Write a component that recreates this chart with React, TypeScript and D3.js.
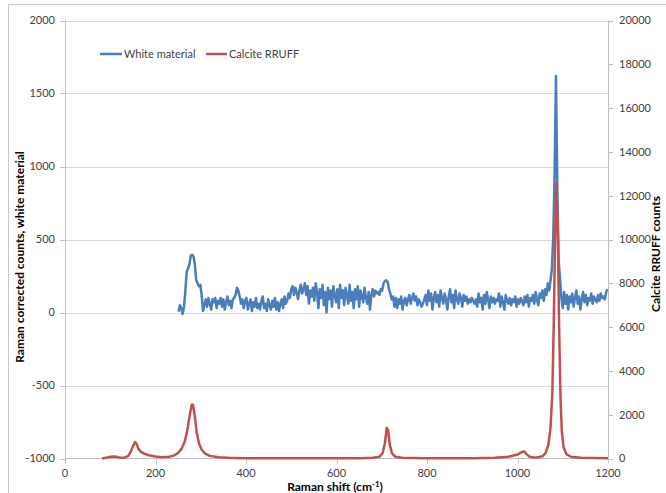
import React from "react";
import * as d3 from "d3";

// ---- Data ----
const xTicks = [0, 200, 400, 600, 800, 1000, 1200];
const leftTicks = [-1000, -500, 0, 500, 1000, 1500, 2000];
const rightTicks = [0, 2000, 4000, 6000, 8000, 10000, 12000, 14000, 16000, 18000, 20000];

// White material: sampled from 251 cm-1 every 3 cm-1
const whiteStart = 251;
const whiteStep = 3;
const whiteValues = [
  5, 50, 30, -10, 40, 150, 280, 300, 330, 390,
  395, 385, 330, 220, 200, 180, 190, 120, 10, 50,
  90, 40, 100, 60, 20, 90, 70, 100, 30, 80,
  60, 100, 40, 90, 20, 70, 110, 50, 80, 30,
  90, 100, 120, 170, 150, 110, 60, 90, 30, 80,
  100, 20, 60, 90, 10, 70, 40, 100, 30, 60,
  20, 80, 110, 30, 60, 10, 90, 50, 20, 80,
  40, 100, 20, 70, 10, 60, 90, 30, 110, 60,
  80, 130, 100, 160, 180, 120, 170, 140, 90, 150,
  190, 130, 160, 200, 120, 180, 60, 150, 110, 170,
  80, 200, 140, 30, 160, 100, 190, 50, 140, 0,
  170, 90, 150, 40, 180, 120, 70, 160, 30, 190,
  100, 150, 50, 170, 120, 60, 190, 80, 140, 30,
  160, 90, 180, 40, 150, 110, 70, 170, 100, 60,
  140, 20, 120, 160, 110, 150, 130, 140, 120, 160,
  150, 200, 215, 220, 210, 160, 130, 90, 110, 40,
  100, 30, 90, 60, 110, 20, 80, 100, 50, 90,
  120, 60, 100, 130, 80, 110, 50, 90, 70, 40,
  60, 90, 120, 50, 150, 80, 130, 20, 100, 140,
  70, 120, 40, 150, 100, 60, 130, 90, 20, 110,
  160, 70, 120, 30, 150, 90, 60, 130, 100, 40,
  120, 80, 110, 60, 90, 70, 100, 80, 60, 90,
  40, 130, 70, 100, 20, 120, 60, 140, 90, 30,
  110, 70, 100, 60, 90, 80, 130, 40, 110, 70,
  20, 120, 80, 60, 100, 50, 90, 70, 110, 40,
  90, 60, 100, 80, 50, 110, 70, 120, 40, 100,
  80, 120, 60, 140, 90, 50, 130, 100, 150, 80,
  160, 120, 200, 150, 220, 300, 520, 950, 1620, 850,
  350, 230, 100, 30, 140, 60, 120, 20, 110, 70,
  130, 40, 100, 150, 60, 110, 20, 90, 140, 70,
  120, 50, 100, 80, 130, 60, 110, 90, 70, 120,
  80, 130, 100, 110, 90, 140, 160,
];

// Calcite RRUFF reference
const calciteShift = [
  82, 90, 100, 110, 120, 130, 140, 145, 150, 155, 158, 162, 168, 175, 185, 200, 215, 230, 240, 250,
  258, 265, 270, 275, 280, 283, 287, 291, 296, 302, 310, 320, 340, 360, 400, 450, 500, 550, 600, 650,
  680, 695, 702, 707, 711, 714, 718, 723, 730, 745, 800, 900, 950, 980, 1000, 1010, 1015, 1020, 1027, 1040,
  1055, 1062, 1068, 1073, 1077, 1080, 1083, 1086, 1089, 1092, 1095, 1098, 1102, 1108, 1118, 1140, 1200,
];
const calciteCounts = [
  0, 30, 80, 90, 50, 30, 120, 300, 550, 750, 680, 450, 300, 220, 150, 90, 60, 80, 130, 250,
  450, 800, 1250, 1900, 2450, 2450, 1900, 1200, 700, 400, 220, 120, 60, 30, 15, 10, 10, 10, 10, 15,
  30, 80, 250, 700, 1400, 1300, 600, 220, 80, 30, 15, 15, 30, 80, 180, 300, 320, 200, 80, 40,
  100, 250, 600, 1400, 3000, 6000, 10000, 12600, 10500, 6000, 2800, 1200, 500, 200, 80, 30, 10,
];

const seriesNames = ["White material", "Calcite RRUFF"];
const seriesColors = ["#4a7ebb", "#c0504d"];

export default function App() {
  const W = 666;
  const H = 493;
  const left = 65;
  const right = 608;
  const top = 20.5;
  const bottom = 458.5;

  const x = d3.scaleLinear().domain([0, 1200]).range([left, right]);
  const yL = d3.scaleLinear().domain([-1000, 2000]).range([bottom, top]);
  const yR = d3.scaleLinear().domain([0, 20000]).range([bottom, top]);

  const whiteData = whiteValues.map((v, i) => [whiteStart + i * whiteStep, v] as [number, number]);
  const calciteData = calciteShift.map((s, i) => [s, calciteCounts[i]] as [number, number]);

  const lineL = d3.line<[number, number]>().x((d) => x(d[0])).y((d) => yL(d[1]));
  const lineR = d3.line<[number, number]>().x((d) => x(d[0])).y((d) => yR(d[1]));

  const font = "Lato, 'Open Sans', sans-serif";
  const tickColor = "#404040";

  return (
    <svg width={W} height={H} style={{ position: "absolute", left: 0, top: 0 }} fontFamily={font}>
      <rect x={0} y={0} width={W} height={H} fill="#fff" />
      <rect x={8.5} y={4.5} width={700} height={600} fill="none" stroke="#c8c8c8" strokeWidth={1} />
      {/* gridlines */}
      {leftTicks.filter((t) => t > -1000).map((t) => (
        <line key={"g" + t} x1={left} x2={right} y1={Math.round(yL(t)) + 0.5} y2={Math.round(yL(t)) + 0.5} stroke="#d9d9d9" strokeWidth={1} />
      ))}
      {/* axes */}
      <line x1={left} x2={right} y1={bottom} y2={bottom} stroke="#bfbfbf" strokeWidth={1} />
      <line x1={left + 0.5} x2={left + 0.5} y1={top} y2={bottom} stroke="#bfbfbf" strokeWidth={1} />
      <line x1={right + 0.5} x2={right + 0.5} y1={top} y2={bottom} stroke="#bfbfbf" strokeWidth={1} />
      {leftTicks.map((t) => (
        <g key={"l" + t}>
          <line x1={left - 5} x2={left} y1={Math.round(yL(t)) + 0.5} y2={Math.round(yL(t)) + 0.5} stroke="#bfbfbf" />
          <text x={55} y={yL(t)} dy="0.35em" textAnchor="end" fontSize={11} fill={tickColor}>{t}</text>
        </g>
      ))}
      {rightTicks.map((t) => (
        <g key={"r" + t}>
          <line x1={right} x2={right + 5} y1={Math.round(yR(t)) + 0.5} y2={Math.round(yR(t)) + 0.5} stroke="#bfbfbf" />
          <text x={619} y={yR(t)} dy="0.35em" textAnchor="start" fontSize={11} fill={tickColor}>{t}</text>
        </g>
      ))}
      {xTicks.map((t) => (
        <g key={"x" + t}>
          <line x1={Math.round(x(t)) + 0.5} x2={Math.round(x(t)) + 0.5} y1={bottom} y2={bottom + 5} stroke="#bfbfbf" />
          <text x={x(t)} y={473} dy="0.35em" textAnchor="middle" fontSize={11} fill={tickColor}>{t}</text>
        </g>
      ))}
      {/* series */}
      <path d={lineL(whiteData) || ""} fill="none" stroke={seriesColors[0]} strokeWidth={2.5} strokeLinejoin="round" />
      <path d={lineR(calciteData) || ""} fill="none" stroke={seriesColors[1]} strokeWidth={2.5} strokeLinejoin="round" />
      {/* legend */}
      <line x1={100} x2={122} y1={54} y2={54} stroke={seriesColors[0]} strokeWidth={2.5} />
      <text x={124} y={54} dy="0.35em" fontSize={11} fill={tickColor}>{seriesNames[0]}</text>
      <line x1={206} x2={227} y1={54} y2={54} stroke={seriesColors[1]} strokeWidth={2.5} />
      <text x={229} y={54} dy="0.35em" fontSize={11} fill={tickColor}>{seriesNames[1]}</text>
      {/* axis titles */}
      <text transform={`translate(24,257) rotate(-90)`} textAnchor="middle" fontSize={12} fontWeight="bold" fill="#000">
        Raman corrected counts, white material
      </text>
      <text transform={`translate(660,254) rotate(-90)`} textAnchor="middle" fontSize={12} fontWeight="bold" fill="#000">
        Calcite RRUFF counts
      </text>
      <text x={335} y={491} textAnchor="middle" fontSize={12} fontWeight="bold" fill="#000">
        Raman shift (cm<tspan dy={-4} fontSize={8}>-1</tspan><tspan dy={4}>)</tspan>
      </text>
    </svg>
  );
}
